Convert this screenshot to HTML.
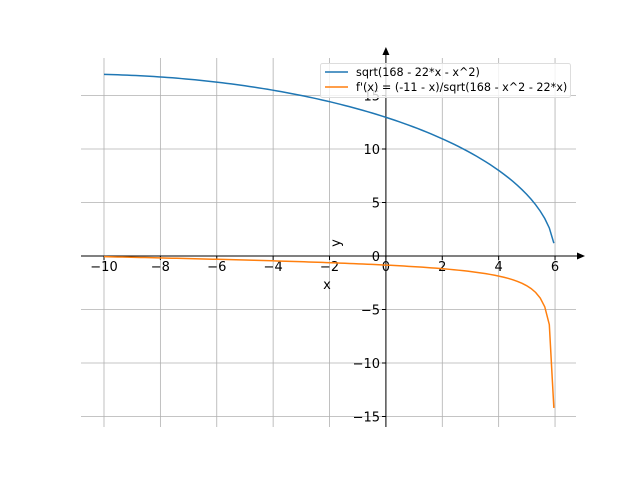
<!DOCTYPE html>
<html><head><style>body{margin:0;background:#fff}svg{display:block}text{font-family:"DejaVu Sans","Liberation Sans",sans-serif}</style></head>
<body>
<svg id="s" width="640" height="480" xmlns="http://www.w3.org/2000/svg">
<g id="grid" stroke="#b0b0b0" stroke-width="0.8"></g>
<line x1="81" y1="256" x2="578" y2="256" stroke="#000" stroke-width="1"/>
<polygon points="585,256 577,252.5 577,259.5" fill="#000"/>
<line x1="385.9" y1="427" x2="385.9" y2="54" stroke="#000" stroke-width="1"/>
<polygon points="385.9,47 382.4,55 389.4,55" fill="#000"/>
<g id="ticks" font-size="13" fill="#000"></g>
<path id="p1" fill="none" stroke="#1f77b4" stroke-width="1.5"/>
<path id="p2" fill="none" stroke="#ff7f0e" stroke-width="1.5"/>
<text x="327" y="289" font-size="13" text-anchor="middle">x</text>
<text x="0" y="0" font-size="13" text-anchor="middle" transform="translate(340,243) rotate(-90)">y</text>
<rect x="320.5" y="63.5" width="250" height="34" fill="#fff" fill-opacity="0.8" stroke="#ddd" rx="2"/>
<line x1="325" y1="72" x2="348" y2="72" stroke="#1f77b4" stroke-width="1.5"/>
<line x1="325" y1="87" x2="348" y2="87" stroke="#ff7f0e" stroke-width="1.5"/>
<text x="356" y="76" font-size="11.2">sqrt(168 - 22*x - x^2)</text>
<text x="356" y="91" font-size="11.2">f'(x) = (-11 - x)/sqrt(168 - x^2 - 22*x)</text>
</svg>
<script>
var X=function(x){return 385.9+x*28.19},Y=function(y){return 256-y*10.7};
var g=document.getElementById('grid'),t=document.getElementById('ticks'),ns='http://www.w3.org/2000/svg';
function el(p,n,a,txt){var e=document.createElementNS(ns,n);for(var k in a)e.setAttribute(k,a[k]);if(txt!=null)e.textContent=txt;p.appendChild(e);}
for(var x=-10;x<=6;x+=2){var px=X(x);el(g,'line',{x1:px,y1:58,x2:px,y2:427});el(t,'line',{x1:px,y1:256,x2:px,y2:260,stroke:'#000'});el(t,'text',{x:px,y:271,'text-anchor':'middle'},(x<0?'\u2212'+(-x):x));}
for(var y=-15;y<=15;y+=5){var py=Y(y);el(g,'line',{x1:81,y1:py,x2:576,y2:py});el(t,'line',{x1:382,y1:py,x2:386,y2:py,stroke:'#000'});el(t,'text',{x:380,y:py+5,'text-anchor':'end'},(y<0?'\u2212'+(-y):y));}
var d1='',d2='';
for(var i=0;i<100;i++){var x=-10+i*15.958/99;var f=Math.sqrt(289-(x+11)*(x+11));var df=-(x+11)/f;
d1+=(i?'L':'M')+X(x).toFixed(2)+' '+Y(f).toFixed(2);d2+=(i?'L':'M')+X(x).toFixed(2)+' '+Y(df).toFixed(2);}
document.getElementById('p1').setAttribute('d',d1);document.getElementById('p2').setAttribute('d',d2);
</script>
</body></html>
